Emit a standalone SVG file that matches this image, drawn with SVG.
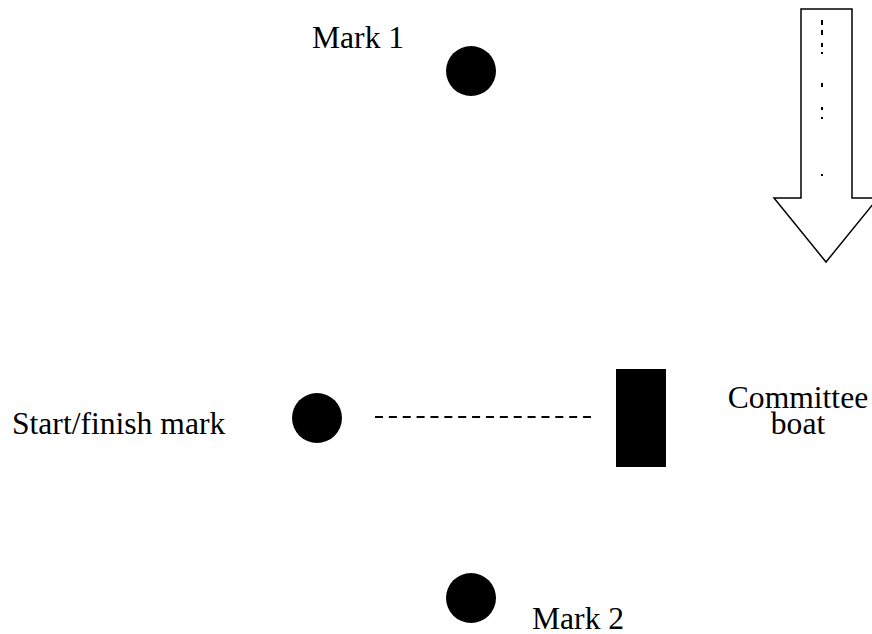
<svg xmlns="http://www.w3.org/2000/svg" width="872" height="634" viewBox="0 0 872 634">
<style>
text{font-family:"Liberation Serif","Times New Roman",serif;font-size:31.6px;fill:#000}
.mark{fill:#000}
.conn{stroke:#000;stroke-width:2;stroke-dasharray:8 5.87;fill:none}
.wind{fill:#fff;stroke:#000;stroke-width:1.5}
.dot{fill:#000}
</style>
<rect width="872" height="634" fill="#fff"/>
<g id="wind">
<polygon class="wind" points="801,9 852,9 852,198 878,198 826,262 774,198 801,198"/>
<rect class="dot" x="821" y="20" width="2" height="5"/>
<rect class="dot" x="821" y="30" width="2" height="5"/>
<rect class="dot" x="821" y="43" width="2" height="4"/>
<rect class="dot" x="821" y="52" width="2" height="2"/>
<rect class="dot" x="821" y="83" width="2" height="4"/>
<rect class="dot" x="821" y="107" width="2" height="3"/>
<rect class="dot" x="821" y="117" width="2" height="2"/>
<rect class="dot" x="821" y="174" width="2" height="2"/>
</g>
<g id="mark1">
<circle class="mark" cx="471" cy="71" r="25"/>
<text x="312" y="48">Mark 1</text>
</g>
<g id="startmark">
<circle class="mark" cx="317" cy="418" r="25"/>
<text x="12" y="434">Start/finish mark</text>
</g>
<g id="committee">
<rect class="mark" x="616" y="369" width="50" height="98"/>
<text x="798" y="408" text-anchor="middle">Committee</text>
<text x="798" y="434" text-anchor="middle">boat</text>
</g>
<g id="mark2">
<circle class="mark" cx="471" cy="598" r="25"/>
<text x="532" y="629">Mark 2</text>
</g>
<g id="connectors">
<line class="conn" x1="375" y1="417" x2="591" y2="417"/>
</g>
</svg>
